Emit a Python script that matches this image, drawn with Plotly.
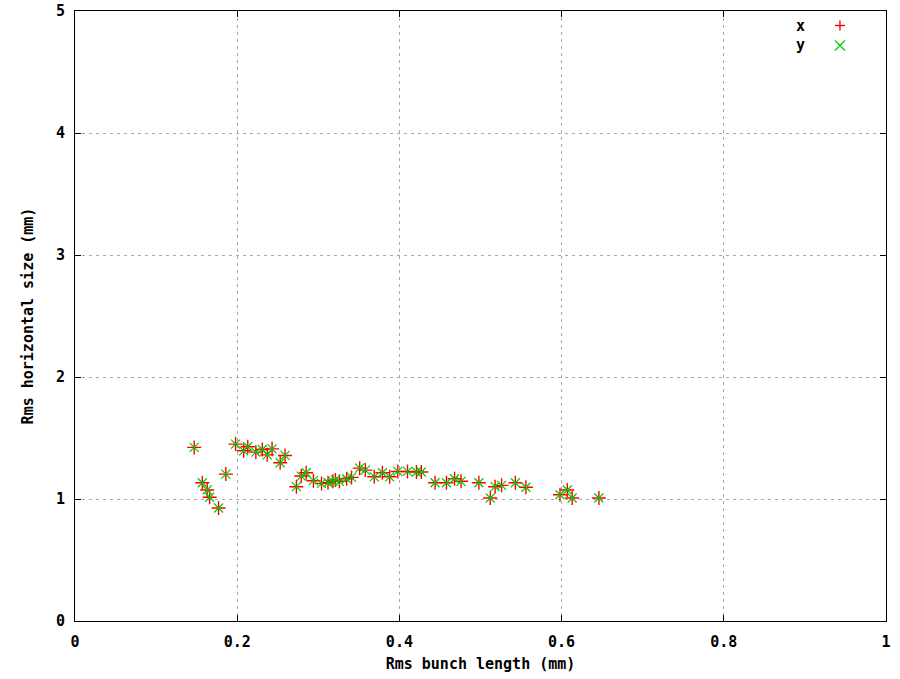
import plotly.graph_objects as go

# Rms bunch length (mm)
bunch_length = [
    0.147, 0.157, 0.163, 0.166, 0.177, 0.186, 0.198, 0.208, 0.213, 0.223,
    0.231, 0.237, 0.243, 0.253, 0.259, 0.273, 0.279, 0.285, 0.294, 0.304,
    0.312, 0.318, 0.321, 0.326, 0.335, 0.341, 0.351, 0.358, 0.369, 0.379,
    0.388, 0.398, 0.410, 0.421, 0.427, 0.444, 0.458, 0.468, 0.476, 0.498,
    0.512, 0.518, 0.526, 0.543, 0.556, 0.598, 0.607, 0.613, 0.646,
]
# Rms size in x (mm)
size_x = [
    1.423, 1.133, 1.074, 1.014, 0.926, 1.204, 1.450, 1.395, 1.428, 1.384,
    1.406, 1.362, 1.411, 1.297, 1.357, 1.101, 1.188, 1.215, 1.150, 1.128,
    1.133, 1.145, 1.155, 1.145, 1.166, 1.177, 1.253, 1.237, 1.182, 1.215,
    1.182, 1.226, 1.226, 1.221, 1.221, 1.133, 1.133, 1.166, 1.145, 1.133,
    1.008, 1.101, 1.112, 1.133, 1.096, 1.035, 1.074, 1.008, 1.008,
]
# Rms size in y (mm)
size_y = [
    1.423, 1.133, 1.074, 1.014, 0.926, 1.204, 1.450, 1.395, 1.428, 1.384,
    1.406, 1.362, 1.411, 1.297, 1.357, 1.101, 1.188, 1.215, 1.150, 1.128,
    1.133, 1.145, 1.155, 1.145, 1.166, 1.177, 1.253, 1.237, 1.182, 1.215,
    1.182, 1.226, 1.226, 1.221, 1.221, 1.133, 1.133, 1.166, 1.145, 1.133,
    1.008, 1.101, 1.112, 1.133, 1.096, 1.035, 1.074, 1.008, 1.008,
]

x_ticks = [0, 0.2, 0.4, 0.6, 0.8, 1]
x_tick_text = ["0", "0.2", "0.4", "0.6", "0.8", "1"]
y_ticks = [0, 1, 2, 3, 4, 5]
y_tick_text = ["0", "1", "2", "3", "4", "5"]

RED = "#ff0000"
GREEN = "#00c800"
FONT = dict(family="DejaVu Sans Mono", size=15, color="black", weight="bold")

fig = go.Figure()
fig.add_trace(go.Scatter(
    x=bunch_length, y=size_x, mode="markers", name="x",
    marker=dict(symbol="cross-thin-open", size=10, color=RED,
                line=dict(color=RED, width=1.4)),
))
fig.add_trace(go.Scatter(
    x=bunch_length, y=size_y, mode="markers", name="y",
    marker=dict(symbol="x-thin-open", size=9, color=GREEN,
                line=dict(color=GREEN, width=1.2)),
))

# plot area in pixels: left 75, right 886, top 11, bottom 621
L, R, T, B = 75.4, 886.0, 11.0, 621.3
W, H = R - L, B - T


def px(xp):
    return (xp - L) / W


def py(yp):
    return (B - yp) / H


shapes = []
# key symbols, drawn to the right of their labels
cx, cy = 840, 25.5
shapes.append(dict(type="line", xref="paper", yref="paper", x0=px(cx - 5), x1=px(cx + 5),
                   y0=py(cy), y1=py(cy), line=dict(color=RED, width=1.4)))
shapes.append(dict(type="line", xref="paper", yref="paper", x0=px(cx), x1=px(cx),
                   y0=py(cy - 5), y1=py(cy + 5), line=dict(color=RED, width=1.4)))
cx, cy = 840, 45.5
shapes.append(dict(type="line", xref="paper", yref="paper", x0=px(cx - 5), x1=px(cx + 5),
                   y0=py(cy - 5), y1=py(cy + 5), line=dict(color=GREEN, width=1.2)))
shapes.append(dict(type="line", xref="paper", yref="paper", x0=px(cx - 5), x1=px(cx + 5),
                   y0=py(cy + 5), y1=py(cy - 5), line=dict(color=GREEN, width=1.2)))

annotations = [
    dict(text="x", xref="paper", yref="paper", x=px(807), y=py(26), xanchor="right",
         yanchor="middle", showarrow=False, font=FONT),
    dict(text="y", xref="paper", yref="paper", x=px(807), y=py(45), xanchor="right",
         yanchor="middle", showarrow=False, font=FONT),
]

axis_common = dict(
    showline=True, linecolor="black", linewidth=1, mirror="allticks",
    ticks="inside", ticklen=6, tickcolor="black", tickwidth=1,
    showgrid=True, gridcolor="#a8a8a8", griddash="3px,4px", gridwidth=1,
    zeroline=False, tickfont=FONT, automargin=False,
)

fig.update_layout(
    width=900, height=679,
    margin=dict(l=L, r=900 - R, t=T, b=679 - B),
    paper_bgcolor="white", plot_bgcolor="white",
    showlegend=False,
    shapes=shapes, annotations=annotations,
    xaxis=dict(range=[0, 1], tickvals=x_ticks, ticktext=x_tick_text,
               ticklabelstandoff=7,
               title=dict(text="Rms bunch length (mm)", font=FONT, standoff=8),
               **axis_common),
    yaxis=dict(range=[0, 5], tickvals=y_ticks, ticktext=y_tick_text,
               ticklabelstandoff=6,
               title=dict(text="Rms horizontal size (mm)", font=FONT, standoff=18),
               **axis_common),
)

fig.write_html("out.html")
